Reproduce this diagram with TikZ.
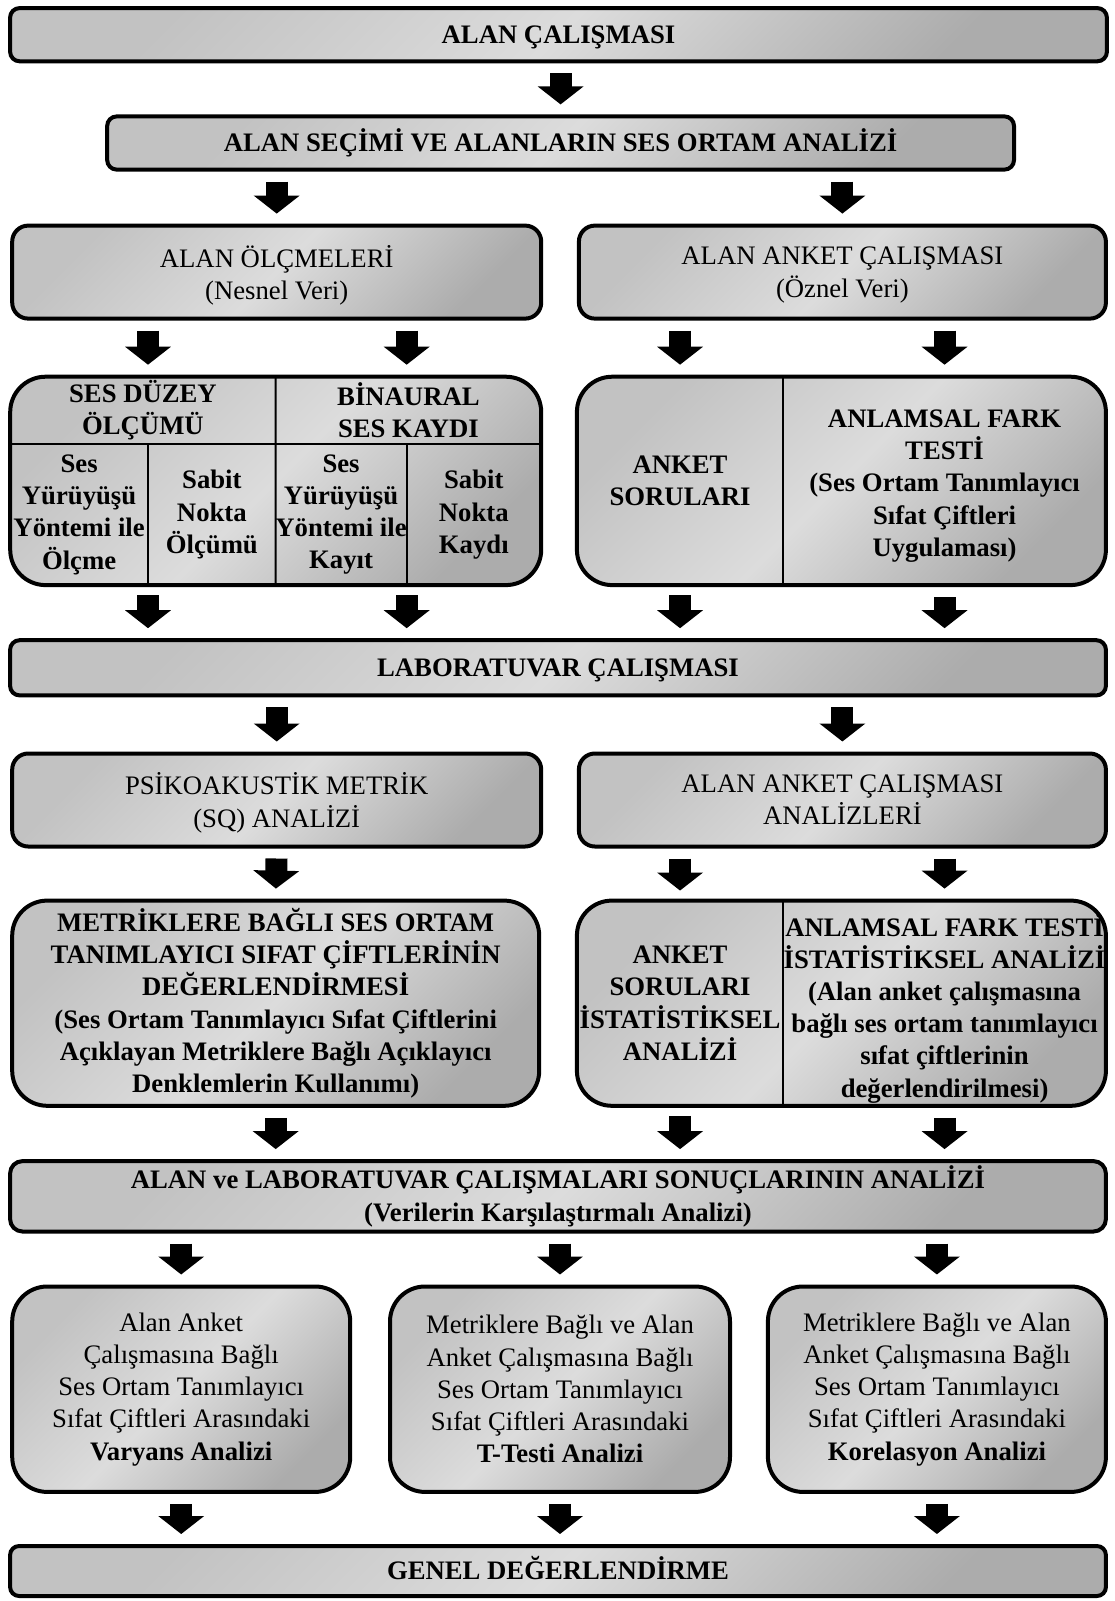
\documentclass[tikz,border=0pt]{standalone}
\usepackage{fontspec}
\setmainfont{Liberation Serif}
\usetikzlibrary{arrows.meta}
\definecolor{shadeout}{HTML}{C2C2C2}
\definecolor{shadedeep}{HTML}{ACACAC}
\definecolor{shadein}{HTML}{DCDCDC}
\newcommand{\boxfont}{\fontsize{13.35pt}{16.1pt}\selectfont}

\begin{document}
\begin{tikzpicture}[x=0.5pt, y=-0.5pt,
  panel/.style={draw, line width=2pt, rounded corners=#1, top color=shadeout, bottom color=shadedeep, middle color=shadein, shading angle=45, inner sep=2pt, align=center, font=\boxfont},
  panel/.default=4.75pt,
  strong/.style={font=\boxfont\bfseries},
  oneline/.style={text height=8.85pt, text depth=0pt},
  lowered/.style={text depth=0pt},
  tabcell/.style={inner sep=0pt, outer sep=0pt, align=center, font=\boxfont\bfseries},
  divider/.style={line width=1pt},
  bigarrow/.style={line width=11pt, -{Triangle[width=22.5pt,length=9pt]}, shorten <=5pt, shorten >=5pt}]
\useasboundingbox (0,0) rectangle (1114,1601);

\node[panel, strong, oneline, minimum width=548.4pt, minimum height=26.6pt] (alan) at (558.5,34.7) {ALAN ÇALIŞMASI};
\node[panel, strong, oneline, minimum width=453.4pt, minimum height=26.6pt] (secim) at (560.6,143) {ALAN SEÇİMİ VE ALANLARIN SES ORTAM ANALİZİ};
\node[panel=8pt, lowered, minimum width=264.5pt, minimum height=46.5pt] (olcum) at (276.7,272.1) {ALAN ÖLÇMELERİ\\(Nesnel Veri)};
\node[panel=8pt, lowered, minimum width=263.5pt, minimum height=46.5pt] (anket) at (842.4,272.1) {ALAN ANKET ÇALIŞMASI\\(Öznel Veri)};

\node[panel=17.7pt, minimum width=265.5pt, minimum height=104.2pt] (olcumtab) at (275.7,480.9) {};
\node[tabcell, minimum width=132.75pt, minimum height=33.75pt] (duzey) at (142.95,410.45) {SES DÜZEY\\ÖLÇÜMÜ};
\node[tabcell, minimum width=132.75pt, minimum height=33.75pt] (binaural) at (408.45,410.45) {BİNAURAL\\SES KAYDI};
\node[tabcell, minimum width=68.9pt, minimum height=70.45pt] (yuruyusolc) at (79.1,514.65) {Ses\\Yürüyüşü\\Yöntemi ile\\Ölçme};
\node[tabcell, minimum width=63.85pt, minimum height=70.45pt] (sabitolc) at (211.85,514.65) {Sabit\\Nokta\\Ölçümü};
\node[tabcell, minimum width=65.35pt, minimum height=70.45pt] (yuruyuskay) at (341.05,514.65) {Ses\\Yürüyüşü\\Yöntemi ile\\Kayıt};
\node[tabcell, minimum width=67.4pt, minimum height=70.45pt] (sabitkay) at (473.8,514.65) {Sabit\\Nokta\\Kaydı};
\draw[divider] (duzey.south west) -- (binaural.south east);
\draw[divider] (duzey.north east) -- (sabitolc.south east);
\draw[divider] (yuruyusolc.north east) -- (yuruyusolc.south east);
\draw[divider] (yuruyuskay.north east) -- (yuruyuskay.south east);

\node[panel=17.7pt, minimum width=264.5pt, minimum height=104.2pt] (anketab) at (841.4,480.9) {};
\node[tabcell, minimum width=103.15pt, minimum height=104.2pt] (sorular) at (680.05,480.9) {ANKET\\SORULARI};
\node[tabcell, minimum width=161.35pt] (anlamsal) at (944.55,486) {ANLAMSAL FARK\\TESTİ\\(Ses Ortam Tanımlayıcı\\Sıfat Çiftleri\\Uygulaması)};
\draw[divider] (sorular.north east) -- (sorular.south east);

\node[panel, strong, oneline, minimum width=547.9pt, minimum height=27.6pt] (lab) at (558,667.8) {LABORATUVAR ÇALIŞMASI};
\node[panel=8pt, lowered, minimum width=264.5pt, minimum height=46.5pt] (psiko) at (276.7,800) {PSİKOAKUSTİK METRİK\\(SQ) ANALİZİ};
\node[panel=8pt, lowered, minimum width=263.5pt, minimum height=46.5pt] (anketanaliz) at (842.4,800) {ALAN ANKET ÇALIŞMASI\\ANALİZLERİ};

\node[panel=17.5pt, strong, minimum width=263.5pt, minimum height=102.6pt] (metrik) at (275.7,1003.2) {METRİKLERE BAĞLI SES ORTAM\\TANIMLAYICI SIFAT ÇİFTLERİNİN\\DEĞERLENDİRMESİ\\(Ses Ortam Tanımlayıcı Sıfat Çiftlerini\\Açıklayan Metriklere Bağlı Açıklayıcı\\Denklemlerin Kullanımı)};
\node[panel=17.5pt, minimum width=264.5pt, minimum height=102.6pt] (anketist) at (841.4,1003.2) {};
\node[tabcell, minimum width=103.15pt, minimum height=102.65pt] (soruist) at (680.05,1003.2) {ANKET\\SORULARI\\İSTATİSTİKSEL\\ANALİZİ};
\node[tabcell, minimum width=161.35pt] (anlamsalist) at (944.55,1008) {ANLAMSAL FARK TESTİ\\İSTATİSTİKSEL ANALİZİ\\(Alan anket çalışmasına\\bağlı ses ortam tanımlayıcı\\sıfat çiftlerinin\\değerlendirilmesi)};
\draw[divider] (soruist.north east) -- (soruist.south east);

\node[panel=6.2pt, strong, minimum width=547.9pt, minimum height=35.2pt] (karsilas) at (558,1196.3) {ALAN ve LABORATUVAR ÇALIŞMALARI SONUÇLARININ ANALİZİ\\(Verilerin Karşılaştırmalı Analizi)};

\node[panel=17.5pt, minimum width=169pt, minimum height=102.7pt] (varyans) at (181.2,1389.2) {Alan Anket\\Çalışmasına Bağlı\\Ses Ortam Tanımlayıcı\\Sıfat Çiftleri Arasındaki\\\textbf{Varyans Analizi}};
\node[panel=17.5pt, minimum width=170pt, minimum height=102.7pt] (ttest) at (560,1389.2) {Metriklere Bağlı ve Alan\\Anket Çalışmasına Bağlı\\Ses Ortam Tanımlayıcı\\Sıfat Çiftleri Arasındaki\\\textbf{T-Testi Analizi}};
\node[panel=17.5pt, minimum width=169pt, minimum height=102.7pt] (korelasyon) at (936.9,1389.2) {Metriklere Bağlı ve Alan\\Anket Çalışmasına Bağlı\\Ses Ortam Tanımlayıcı\\Sıfat Çiftleri Arasındaki\\\textbf{Korelasyon Analizi}};

\node[panel=4.5pt, strong, oneline, minimum width=547.9pt, minimum height=25pt] (genel) at (558,1571) {GENEL DEĞERLENDİRME};

\draw[bigarrow] (alan.south -| secim.north) -- (secim.north);
\draw[bigarrow] (secim.south -| olcum.north) -- (olcum.north);
\draw[bigarrow] (secim.south -| anket.north) -- (anket.north);
\draw[bigarrow] (olcum.south -| yuruyusolc.east) -- (olcumtab.north -| yuruyusolc.east);
\draw[bigarrow] (olcum.south -| yuruyuskay.east) -- (olcumtab.north -| yuruyuskay.east);
\draw[bigarrow] (anket.south -| sorular.north) -- (anketab.north -| sorular.north);
\draw[bigarrow] (anket.south -| anlamsal.north) -- (anketab.north -| anlamsal.north);
\draw[bigarrow] (yuruyusolc.south east) -- (lab.north -| yuruyusolc.south east);
\draw[bigarrow] (yuruyuskay.south east) -- (lab.north -| yuruyuskay.south east);
\draw[bigarrow] (sorular.south) -- (lab.north -| sorular.south);
\draw[bigarrow] (anketab.south -| anlamsal.south) -- (lab.north -| anlamsal.south);
\draw[bigarrow] (lab.south -| psiko.north) -- (psiko.north);
\draw[bigarrow] (lab.south -| anketanaliz.north) -- (anketanaliz.north);
\draw[bigarrow] (psiko.south) -- (metrik.north);
\draw[bigarrow] (anketanaliz.south -| soruist.north) -- (soruist.north);
\draw[bigarrow] (anketanaliz.south -| anlamsalist.north) -- (anketist.north -| anlamsalist.north);
\draw[bigarrow] (metrik.south) -- (karsilas.north -| metrik.south);
\draw[bigarrow] (soruist.south) -- (karsilas.north -| soruist.south);
\draw[bigarrow] (anketist.south -| anlamsalist.south) -- (karsilas.north -| anlamsalist.south);
\draw[bigarrow] (karsilas.south -| varyans.north) -- (varyans.north);
\draw[bigarrow] (karsilas.south -| ttest.north) -- (ttest.north);
\draw[bigarrow] (karsilas.south -| korelasyon.north) -- (korelasyon.north);
\draw[bigarrow] (varyans.south) -- (genel.north -| varyans.south);
\draw[bigarrow] (ttest.south) -- (genel.north -| ttest.south);
\draw[bigarrow] (korelasyon.south) -- (genel.north -| korelasyon.south);
\end{tikzpicture}
\end{document}
